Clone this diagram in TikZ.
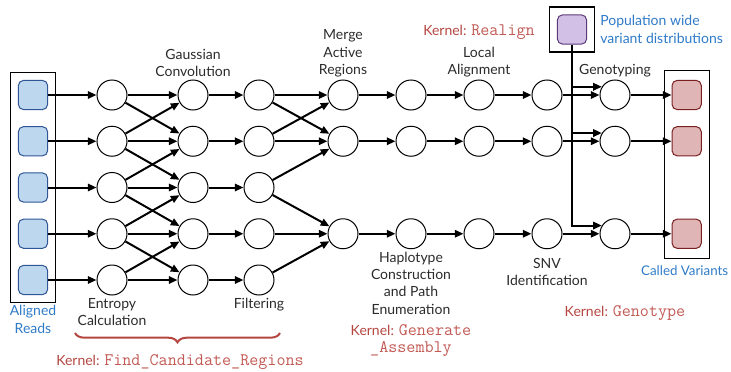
\documentclass[tikz,border=0pt]{standalone}
\usepackage{fontspec}
\setmainfont{Lato}
\usetikzlibrary{arrows.meta, positioning, fit, decorations.pathreplacing}
\definecolor{ctext}{HTML}{2B2B2B}
\definecolor{cblue}{HTML}{2F7BC8}
\definecolor{ckernel}{HTML}{B4463F}
\definecolor{ccode}{HTML}{C25A54}
\definecolor{creadfill}{HTML}{BDD7EE}
\definecolor{creadline}{HTML}{2F5597}
\definecolor{cpopfill}{HTML}{D2C0E6}
\definecolor{cpopline}{HTML}{5B3A7A}
\definecolor{cvarfill}{HTML}{DFB5B5}
\definecolor{cvarline}{HTML}{7A1F1F}
\newcommand{\kcode}[1]{{\ttfamily\fontsize{13.2}{13}\selectfont\color{ccode}#1}}
\tikzset{
  every picture/.style={font=\fontsize{10.5}{13}\selectfont, line width=0.75pt},
  stage/.style={circle, draw, minimum size=22.5pt, inner sep=0pt},
  datum/.style={draw=c#1line, fill=c#1fill, rounded corners=4pt, minimum size=22pt, inner sep=0pt},
  frame/.style={draw, line width=0.9pt, inner sep=5.5pt},
  arrow/.style={-{Triangle[length=6.5pt, width=5.5pt]}, line width=1.5pt},
  caption/.style={text=ctext, align=center, inner sep=1.5pt},
  note/.style={text=cblue, align=left, inner sep=1.5pt},
  kernel/.style={text=ckernel, align=center, inner sep=1.5pt},
}

\begin{document}
\begin{tikzpicture}[x=0.75pt, y=-0.75pt, node distance=27.75pt]
  \useasboundingbox (0,0) rectangle (731,371);
  % reads, entropy, gaussian and filtering columns
  \foreach \i/\y in {1/95, 2/141.25, 3/187.5, 4/233.75, 5/280} {
    \node[datum=read] (r\i) at (33,\y) {};
    \node[stage] (a\i) at (112,\y) {};
    \node[stage] (b\i) at (193,\y) {};
    \node[stage] (c\i) at (259,\y) {};
    \draw[arrow] (r\i) -- (a\i);
    \draw[arrow] (a\i) -- (b\i);
    \draw[arrow] (b\i) -- (c\i);
  }
  \foreach \i/\j in {1/2, 2/3, 3/4, 4/5} {
    \draw[arrow] (a\i) -- (b\j);
    \draw[arrow] (a\j) -- (b\i);
  }
  % merged regions down to the called variants
  \foreach \i/\y in {1/95, 2/141.25, 4/233.75} {
    \node[stage] (m\i) at (343,\y) {};
    \node[stage, right=of m\i] (p\i) {};
    \node[stage, right=of p\i] (l\i) {};
    \node[stage, right=of l\i] (s\i) {};
    \node[stage, right=of s\i] (g\i) {};
    \node[datum=var, right=30.75pt of g\i] (v\i) {};
    \draw[arrow] (m\i) -- (p\i);
    \draw[arrow] (p\i) -- (l\i);
    \draw[arrow] (l\i) -- (s\i);
    \draw[arrow] (s\i) -- (g\i);
    \draw[arrow] (g\i) -- (v\i);
  }
  \foreach \i/\j in {1/1, 1/2, 2/1, 2/2, 3/2, 3/4, 4/4, 5/4}
    \draw[arrow] (c\i) -- (m\j);
  % population prior
  \node[datum=pop] (pop) at (572,29.5) {};
  \foreach \i in {1,2,4}
    \draw[arrow] (pop.south) |- (g\i.148);
  \node[frame, fit=(r1)(r5)] (reads) {};
  \node[frame, fit=(v1)(v4), inner ysep=7pt] (called) {};
  \node[frame, fit=(pop)] (popbox) {};
  % labels
  \node[caption, above=0pt of b1] {Gaussian\\Convolution};
  \node[caption, above=0pt of m1] {Merge\\Active\\Regions};
  \node[caption, above=0pt of l1] (local) {Local\\Alignment};
  \node[kernel, above=2pt of local] {Kernel: \kcode{Realign}};
  \node[caption, above=0pt of g1] {Genotyping};
  \node[note, right=2pt of popbox] {Population wide\\variant distributions};
  \node[caption, below=0pt of a5] {Entropy\\Calculation};
  \node[caption, below=0pt of c5] {Filtering};
  \node[caption, below=0pt of p4] (haplo) {Haplotype\\Construction\\and Path\\Enumeration};
  \node[kernel, below=4pt of haplo] {Kernel: \kcode{Generate}\\\kcode{\_Assembly}};
  \node[caption, below=5pt of s4] {SNV\\Identification};
  \node[note, align=center, below=0pt of reads] {Aligned\\Reads};
  \node[note, below=3pt of called, xshift=-1.5pt, font=\fontsize{10}{12}\selectfont] {Called Variants};
  \node[kernel] at (625,313) {Kernel: \kcode{Genotype}};
  \draw[ckernel, line width=1.5pt, decorate, decoration={brace, mirror, amplitude=7pt}]
    (75,333) -- (280,333);
  \node[kernel] at (180,362) {Kernel: \kcode{Find\_Candidate\_Regions}};
\end{tikzpicture}
\end{document}
